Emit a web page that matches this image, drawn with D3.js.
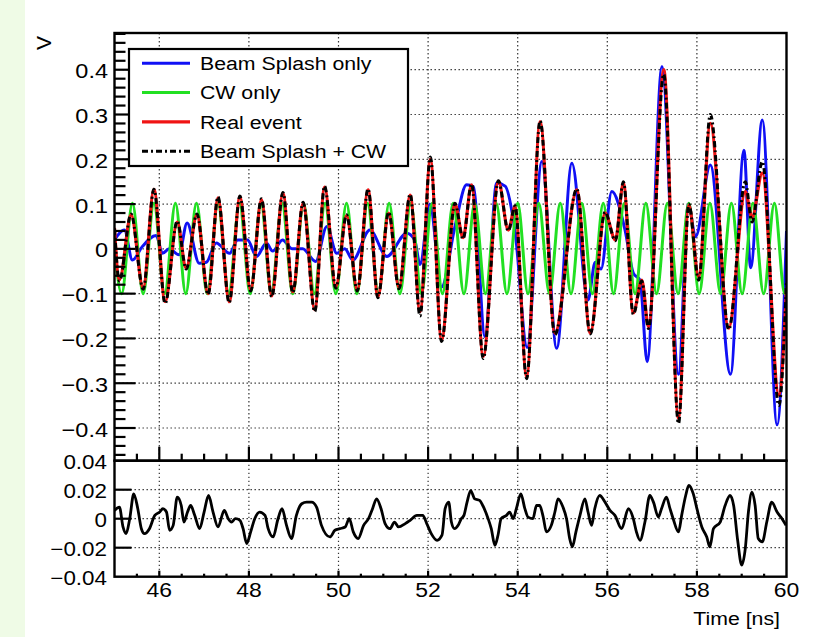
<!DOCTYPE html>
<html><head><meta charset="utf-8">
<script src="https://cdn.jsdelivr.net/npm/d3@7"></script>
<style>
body{margin:0;background:#fff}
svg{display:block}
text{font-family:"Liberation Sans",Arial,Helvetica,sans-serif;fill:#000}
</style>
</head><body>
<svg id="c" width="813" height="637"></svg>
<script>
// ---------------- data ----------------
// Real event (red) and Beam Splash + CW (black) share the same sample times
const realT = [45.00,45.11,45.37,45.64,45.88,46.13,46.40,46.60,46.84,47.09,47.31,47.56,47.80,48.04,48.28,48.51,48.76,48.98,49.21,49.47,49.69,49.94,50.18,50.42,50.66,50.88,51.12,51.35,51.60,51.82,52.05,52.30,52.60,52.78,52.97,53.23,53.57,53.79,53.94,54.20,54.50,54.83,55.32,55.62,55.95,56.18,56.36,56.58,56.77,56.92,57.26,57.59,57.82,58.04,58.30,58.71,59.08,59.23,59.46,59.83,60.00];
const realV = [0.047,-0.069,0.076,-0.087,0.133,-0.118,0.060,-0.043,0.076,-0.100,0.114,-0.118,0.116,-0.092,0.110,-0.105,0.124,-0.096,0.102,-0.136,0.138,-0.085,0.074,-0.092,0.132,-0.107,0.080,-0.087,0.120,-0.140,0.200,-0.203,0.100,0.025,0.143,-0.240,0.150,0.042,0.094,-0.285,0.284,-0.188,0.132,-0.188,0.080,0.020,0.147,-0.143,-0.070,-0.174,0.400,-0.378,0.098,-0.062,0.280,-0.177,0.128,0.070,0.169,-0.326,-0.087];
const sumV  = [0.045,-0.072,0.078,-0.090,0.133,-0.122,0.062,-0.045,0.078,-0.102,0.116,-0.120,0.118,-0.094,0.112,-0.107,0.126,-0.098,0.104,-0.140,0.140,-0.088,0.076,-0.094,0.134,-0.109,0.082,-0.089,0.122,-0.150,0.205,-0.207,0.102,0.022,0.145,-0.245,0.152,0.040,0.096,-0.290,0.286,-0.192,0.134,-0.190,0.082,0.018,0.150,-0.146,-0.072,-0.178,0.390,-0.390,0.100,-0.070,0.300,-0.180,0.150,0.060,0.195,-0.350,-0.070];
// Beam Splash only (blue)
const splashT = [45.00,45.22,45.40,45.62,45.93,46.07,46.22,46.44,46.62,46.89,47.05,47.27,47.57,47.75,47.97,48.17,48.39,48.53,48.75,48.97,49.20,49.49,49.74,49.96,50.14,50.32,50.70,51.08,51.52,51.70,51.82,52.04,52.30,52.60,52.86,53.01,53.27,53.53,53.72,53.94,54.21,54.54,54.87,55.21,55.57,55.73,55.86,56.10,56.40,56.58,56.73,56.89,57.22,57.59,57.81,57.97,58.30,58.75,59.05,59.20,59.46,59.79,60.00];
const splashV = [0.020,0.042,-0.025,0.005,0.030,-0.010,0.000,-0.013,0.058,-0.032,-0.030,0.013,-0.010,0.020,0.020,-0.017,0.013,-0.005,0.020,0.000,0.000,-0.028,0.050,-0.010,0.000,-0.025,0.042,-0.017,0.035,0.020,-0.035,0.100,-0.085,0.050,0.143,0.139,-0.196,0.147,0.140,0.040,-0.220,0.195,-0.222,0.191,-0.114,-0.030,-0.045,0.128,0.040,-0.054,-0.070,-0.252,0.407,-0.280,0.100,0.027,0.187,-0.280,0.220,-0.042,0.288,-0.393,0.040];
// CW only (green)
const cwT = [44.92,45.16,45.40,45.64,45.88,46.12,46.36,46.59,46.83,47.07,47.31,47.55,47.79,48.03,48.27,48.50,48.74,48.98,49.22,49.46,49.70,49.94,50.18,50.41,50.65,50.89,51.13,51.37,51.61,51.85,52.09,52.32,52.56,52.80,53.04,53.28,53.52,53.76,54.00,54.23,54.47,54.71,54.95,55.19,55.43,55.67,55.91,56.14,56.38,56.62,56.86,57.10,57.34,57.58,57.82,58.05,58.29,58.53,58.77,59.01,59.25,59.49,59.73,59.96,60.20];
const cwV = [0.102,-0.100,0.102,-0.100,0.102,-0.100,0.102,-0.100,0.102,-0.100,0.102,-0.100,0.102,-0.100,0.102,-0.100,0.102,-0.100,0.102,-0.100,0.102,-0.100,0.102,-0.100,0.102,-0.100,0.102,-0.100,0.102,-0.100,0.102,-0.100,0.102,-0.100,0.102,-0.100,0.102,-0.100,0.102,-0.100,0.102,-0.100,0.102,-0.100,0.102,-0.100,0.102,-0.100,0.102,-0.100,0.102,-0.100,0.102,-0.100,0.102,-0.100,0.102,-0.100,0.102,-0.100,0.102,-0.100,0.102,-0.100,0.102];
// lower panel: difference
const resT = [45.00,45.11,45.19,45.26,45.34,45.43,45.52,45.60,45.67,45.78,45.90,46.01,46.08,46.16,46.23,46.31,46.40,46.49,46.55,46.63,46.70,46.79,46.90,47.00,47.10,47.20,47.31,47.45,47.54,47.61,47.70,47.80,47.87,47.95,48.04,48.13,48.24,48.36,48.43,48.54,48.65,48.74,48.84,48.95,49.06,49.18,49.29,49.40,49.51,49.62,49.81,49.92,50.03,50.15,50.24,50.33,50.44,50.56,50.67,50.76,50.85,50.95,51.04,51.15,51.25,51.34,51.49,51.60,51.75,51.88,51.97,52.07,52.20,52.31,52.38,52.46,52.52,52.59,52.67,52.74,52.80,52.87,52.95,53.04,53.15,53.22,53.34,53.41,53.49,53.56,53.63,53.75,53.82,53.90,53.97,54.07,54.16,54.23,54.34,54.42,54.49,54.57,54.64,54.75,54.83,54.90,55.01,55.09,55.16,55.22,55.30,55.39,55.50,55.57,55.65,55.72,55.83,55.95,56.06,56.17,56.32,56.47,56.58,56.65,56.73,56.84,56.95,57.03,57.14,57.21,57.32,57.40,57.47,57.59,57.66,57.75,57.82,57.92,58.00,58.11,58.22,58.29,58.37,58.52,58.63,58.74,58.82,58.91,59.00,59.08,59.15,59.23,59.30,59.37,59.46,59.56,59.67,59.79,59.90,59.99];
const resV = [0.0057,0.0080,-0.0057,-0.0103,0.0000,0.0171,0.0069,-0.0069,-0.0103,-0.0069,0.0023,0.0046,0.0069,0.0046,-0.0080,-0.0046,0.0149,0.0091,-0.0023,0.0046,0.0091,0.0023,-0.0069,0.0046,0.0160,0.0046,-0.0057,0.0057,0.0000,-0.0023,0.0000,-0.0011,-0.0069,-0.0171,-0.0091,0.0000,0.0046,0.0023,-0.0069,-0.0126,0.0000,0.0069,-0.0046,-0.0137,0.0023,0.0103,0.0114,0.0114,0.0080,-0.0046,-0.0126,-0.0080,-0.0069,-0.0057,0.0000,-0.0091,-0.0137,-0.0046,0.0000,0.0069,0.0137,0.0069,-0.0034,-0.0069,-0.0023,-0.0057,-0.0034,-0.0011,0.0023,0.0023,-0.0034,-0.0103,-0.0149,-0.0114,0.0069,0.0114,-0.0023,-0.0069,-0.0046,0.0000,0.0023,0.0114,0.0194,0.0137,0.0126,0.0091,0.0000,-0.0069,-0.0183,-0.0114,0.0000,0.0023,0.0046,0.0000,0.0069,0.0171,0.0069,0.0011,0.0000,0.0091,0.0091,0.0011,-0.0091,-0.0046,0.0046,0.0137,0.0080,0.0000,-0.0137,-0.0194,-0.0091,0.0023,0.0137,0.0046,-0.0046,0.0069,0.0160,0.0114,0.0057,0.0023,-0.0069,0.0069,0.0000,-0.0091,-0.0149,-0.0023,0.0160,0.0114,0.0011,0.0069,0.0149,0.0069,0.0000,-0.0091,0.0023,0.0160,0.0229,0.0171,0.0069,-0.0057,-0.0126,-0.0194,-0.0069,-0.0023,0.0091,0.0160,0.0091,-0.0149,-0.0320,-0.0206,0.0046,0.0183,0.0091,-0.0137,-0.0160,-0.0023,0.0114,0.0046,0.0000,-0.0046];

const legendLabels = ["Beam Splash only","CW only","Real event","Beam Splash + CW"];
const xTitle = "Time [ns]";
const yTitle = "V";

// ---------------- layout ----------------
const W = 813, H = 637;
const L = 114.5, R = 786.5, T = 33, M = 460.7, B = 576.7;
const SX = 1.12; // horizontal stretch of the text

const svg = d3.select("#c");
svg.append("rect").attr("width", W).attr("height", H).attr("fill", "#fff");
svg.append("rect").attr("width", 25).attr("height", H).attr("fill", "#effbe6");

const x  = d3.scaleLinear().domain([45, 60]).range([L, R]);
const yT = d3.scaleLinear().domain([-0.473, 0.482]).range([M, T]);
const yB = d3.scaleLinear().domain([-0.04, 0.04]).range([B, M]);

const defs = svg.append("defs");
defs.append("clipPath").attr("id", "clipT").append("rect")
  .attr("x", L).attr("y", T).attr("width", R - L).attr("height", M - T);
defs.append("clipPath").attr("id", "clipB").append("rect")
  .attr("x", L).attr("y", M).attr("width", R - L).attr("height", B - M);

// ---------------- grid ----------------
const grid = svg.append("g").attr("stroke", "#333").attr("stroke-width", 1.2)
  .attr("stroke-dasharray", "1.4,2.6").attr("fill", "none");
const xMajor = x.ticks(8).filter(t => t > 45 && t < 60);
xMajor.forEach(t => {
  grid.append("line").attr("x1", x(t)).attr("x2", x(t)).attr("y1", T).attr("y2", M);
  grid.append("line").attr("x1", x(t)).attr("x2", x(t)).attr("y1", M).attr("y2", B);
});
yT.ticks(10).forEach(v => {
  grid.append("line").attr("x1", L).attr("x2", R).attr("y1", yT(v)).attr("y2", yT(v));
});
yB.ticks(4).filter(v => v > -0.04 && v < 0.04).forEach(v => {
  grid.append("line").attr("x1", L).attr("x2", R).attr("y1", yB(v)).attr("y2", yB(v));
});

// ---------------- curves ----------------
const mk = (ts, vs) => ts.map((t, i) => [t, vs[i]]);
const lineT = d3.line().x(d => x(d[0])).y(d => yT(d[1])).curve(d3.curveMonotoneX);
const lineB = d3.line().x(d => x(d[0])).y(d => yB(d[1])).curve(d3.curveMonotoneX);

const series = [
  {data: mk(splashT, splashV), color: "#1010f5", w: 3.0, dash: null},
  {data: mk(cwT, cwV),         color: "#22e022", w: 3.0, dash: null},
  {data: mk(realT, realV),     color: "#f01414", w: 3.2, dash: null},
  {data: mk(realT, sumV),      color: "#000000", w: 3.0, dash: "6,3,2,3"}
];
const gT = svg.append("g").attr("clip-path", "url(#clipT)");
series.forEach(s => {
  gT.append("path").attr("d", lineT(s.data)).attr("fill", "none")
    .attr("stroke", s.color).attr("stroke-width", s.w)
    .attr("stroke-linejoin", "round")
    .attr("stroke-dasharray", s.dash);
});
svg.append("g").attr("clip-path", "url(#clipB)")
  .append("path").attr("d", lineB(mk(resT, resV))).attr("fill", "none")
  .attr("stroke", "#000").attr("stroke-width", 2.8).attr("stroke-linejoin", "round");

// ---------------- frames ----------------
svg.append("rect").attr("x", L).attr("y", T).attr("width", R - L).attr("height", M - T)
  .attr("fill", "none").attr("stroke", "#000").attr("stroke-width", 2.4);
svg.append("rect").attr("x", L).attr("y", M).attr("width", R - L).attr("height", B - M)
  .attr("fill", "none").attr("stroke", "#000").attr("stroke-width", 2.4);

// ---------------- ticks ----------------
const tk = svg.append("g").attr("stroke", "#000").attr("stroke-width", 2.2);
const isMult = (v, s) => Math.abs(v / s - Math.round(v / s)) < 1e-6;
yT.ticks(50).forEach(v => {
  const len = isMult(v, 0.1) ? 21 : 11;
  tk.append("line").attr("x1", L).attr("x2", L + len).attr("y1", yT(v)).attr("y2", yT(v));
});
yB.ticks(4).filter(v => v > -0.04 && v < 0.04).forEach(v => {
  tk.append("line").attr("x1", L).attr("x2", L + 17).attr("y1", yB(v)).attr("y2", yB(v));
});
x.ticks(30).filter(t => t > 45 && t < 60).forEach(t => {
  const maj = isMult(t, 2);
  tk.append("line").attr("x1", x(t)).attr("x2", x(t)).attr("y1", M).attr("y2", M - (maj ? 14 : 7));
  tk.append("line").attr("x1", x(t)).attr("x2", x(t)).attr("y1", B).attr("y2", B - (maj ? 6 : 3));
});

// ---------------- labels ----------------
const lab = svg.append("g");
function txt(px, py, s, anchor, size, sx) {
  lab.append("text").attr("transform", `translate(${px},${py}) scale(${sx == null ? SX : sx},1)`)
    .attr("text-anchor", anchor).attr("font-size", size).text(s);
}
const f1 = d3.format(".1f"), f2 = d3.format(".2f"), fd = d3.format("d");
yT.ticks(10).forEach(v => txt(108, yT(v) + 8.5, v === 0 ? "0" : f1(v), "end", 21));
yB.ticks(4).forEach(v => txt(107, yB(v) + 8, v === 0 ? "0" : f2(v), "end", 20));
x.ticks(8).forEach(t => txt(x(t), 597, fd(t), "middle", 20.5));
txt(780, 625, xTitle, "end", 19);
lab.append("text").attr("transform", "translate(51,36) rotate(-90)")
  .attr("text-anchor", "end").attr("font-size", 21).text(yTitle);

// ---------------- legend ----------------
const lg = svg.append("g");
lg.append("rect").attr("x", 129).attr("y", 49).attr("width", 279).attr("height", 117)
  .attr("fill", "#fff").attr("stroke", "#000").attr("stroke-width", 2.2);
legendLabels.forEach((name, i) => {
  const cy = 63.3 + i * 29.3;
  const s = series[i];
  lg.append("line").attr("x1", 142).attr("x2", 190).attr("y1", cy).attr("y2", cy)
    .attr("stroke", s.color).attr("stroke-width", s.w).attr("stroke-dasharray", s.dash);
  lg.append("text").attr("transform", `translate(200,${cy + 6.8}) scale(${SX},1)`)
    .attr("font-size", 19).text(name);
});
</script>
</body></html>
